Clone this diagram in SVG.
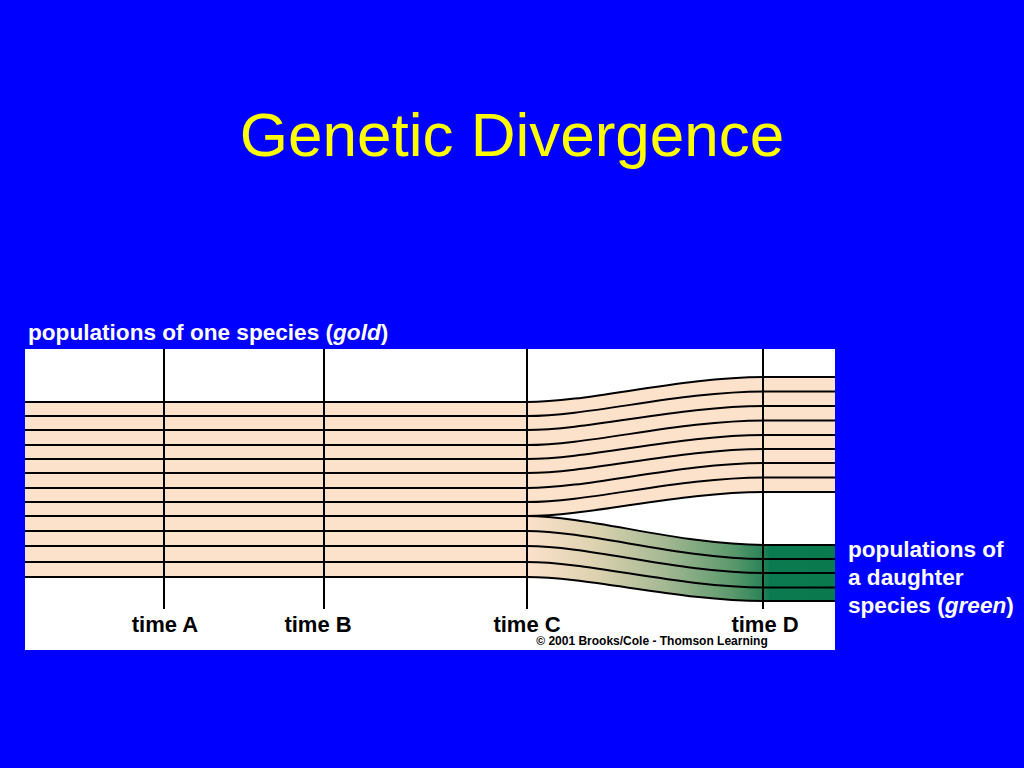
<svg xmlns="http://www.w3.org/2000/svg" width="1024" height="768" viewBox="0 0 1024 768">
<style>
.lbl{font-family:"Liberation Sans",Arial,sans-serif;font-weight:bold;font-size:22.6px;fill:#fff}
.tm{font-family:"Liberation Sans",Arial,sans-serif;font-weight:bold;font-size:22px;fill:#000;text-anchor:middle}
.ln{fill:none;stroke:#000;stroke-width:2}
.vl{stroke:#000;stroke-width:2}
</style>
<defs>
<linearGradient id="grn" gradientUnits="userSpaceOnUse" x1="527" y1="0" x2="835" y2="0">
<stop offset="0" stop-color="#FCE1CB"/>
<stop offset="0.22" stop-color="#DDD2B0"/>
<stop offset="0.45" stop-color="#A3B893"/>
<stop offset="0.66" stop-color="#5E9A6E"/>
<stop offset="0.76" stop-color="#2C8558"/>
<stop offset="0.79" stop-color="#0C7A50"/>
<stop offset="1" stop-color="#0A7A4E"/>
</linearGradient>
</defs>
<rect width="1024" height="768" fill="#0000FF"/>
<text x="512" y="156" text-anchor="middle" font-family="Liberation Sans,Arial,sans-serif" font-size="62" fill="#FFFF00">Genetic Divergence</text>
<text class="lbl" x="28" y="340">populations of one species (<tspan font-style="italic">gold</tspan>)</text>
<g id="frame"><rect x="25" y="349" width="810" height="301" fill="#fff"/></g>
<g id="bands">
<rect x="25" y="402" width="502" height="175" fill="#FCE1CB"/>
<path d="M527,402 C590,402 680,377 765,377 L835,377 L835,492 L765,492 C680,492 590,516 527,516 Z" fill="#FCE1CB"/>
<path d="M527,516 C590,516 680,545 765,545 L835,545 L835,601 L765,601 C680,601 590,577 527,577 Z" fill="url(#grn)"/>
</g>
<g id="lines">
<path class="ln" d="M25,402 H527 C590,402 680,377 765,377 H835"/>
<path class="ln" d="M25,416 H527 C590,416 680,391.5 765,391.5 H835"/>
<path class="ln" d="M25,430 H527 C590,430 680,406 765,406 H835"/>
<path class="ln" d="M25,445 H527 C590,445 680,420.5 765,420.5 H835"/>
<path class="ln" d="M25,459 H527 C590,459 680,435 765,435 H835"/>
<path class="ln" d="M25,473 H527 C590,473 680,449 765,449 H835"/>
<path class="ln" d="M25,488 H527 C590,488 680,463 765,463 H835"/>
<path class="ln" d="M25,502 H527 C590,502 680,477.5 765,477.5 H835"/>
<path class="ln" d="M25,516 H527 C590,516 680,492 765,492 H835"/>
<path class="ln" d="M527,516 C590,516 680,545 765,545 H835"/>
<path class="ln" d="M25,531 H527 C590,531 680,559 765,559 H835"/>
<path class="ln" d="M25,546 H527 C590,546 680,573 765,573 H835"/>
<path class="ln" d="M25,562 H527 C590,562 680,587.5 765,587.5 H835"/>
<path class="ln" d="M25,577 H527 C590,577 680,601 765,601 H835"/>
</g>
<g id="timeA"><line class="vl" x1="164" y1="349" x2="164" y2="609"/><text class="tm" x="165" y="632">time A</text></g>
<g id="timeB"><line class="vl" x1="324" y1="349" x2="324" y2="609"/><text class="tm" x="318" y="632">time B</text></g>
<g id="timeC"><line class="vl" x1="527" y1="349" x2="527" y2="609"/><text class="tm" x="527" y="632">time C</text></g>
<g id="timeD"><line class="vl" x1="763" y1="349" x2="763" y2="609"/><text class="tm" x="765" y="632">time D</text></g>
<text x="652" y="645" text-anchor="middle" font-family="Liberation Sans,Arial,sans-serif" font-weight="bold" font-size="12" fill="#000">© 2001 Brooks/Cole - Thomson Learning</text>
<g id="daughter-label">
<text class="lbl" x="848" y="557">populations of</text>
<text class="lbl" x="848" y="585">a daughter</text>
<text class="lbl" x="848" y="613">species (<tspan font-style="italic">green</tspan>)</text>
</g>
</svg>
